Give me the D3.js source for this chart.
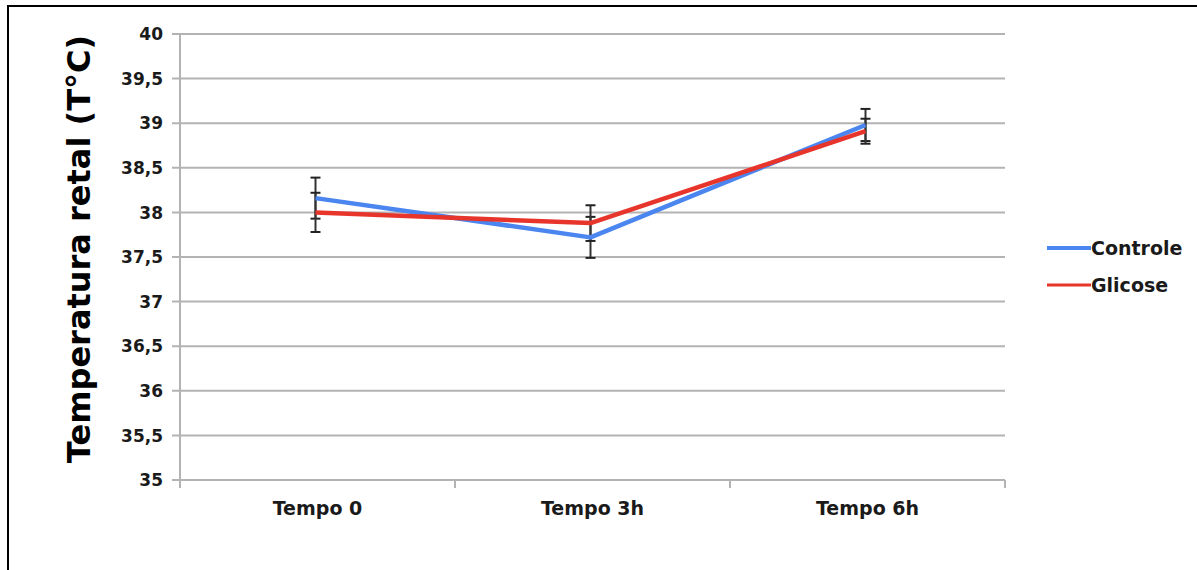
<!DOCTYPE html>
<html><head><meta charset="utf-8">
<script src="https://cdn.jsdelivr.net/npm/d3@7"></script>
<style>body{margin:0;background:#fff}svg{display:block}</style>
</head><body>
<svg id="c" width="1197" height="570"></svg>
<script>
const categories = ["Tempo 0", "Tempo 3h", "Tempo 6h"];
const seriesNames = ["Controle", "Glicose"];
const controle = [38.16, 37.72, 38.98];
const controleErr = [0.23, 0.23, 0.18];
const glicose = [38.0, 37.88, 38.91];
const glicoseErr = [0.22, 0.2, 0.14];
const yTicks = [35, 35.5, 36, 36.5, 37, 37.5, 38, 38.5, 39, 39.5, 40];
const colors = ["#4a85f0", "#e8352c"];

const svg = d3.select("#c");
const font = "DejaVu Sans, Verdana, sans-serif";
// frame
svg.append("rect").attr("x", 8).attr("y", 6).attr("width", 1300).attr("height", 700)
  .attr("fill", "none").attr("stroke", "#000").attr("stroke-width", 2);

const L = 180, R = 1005, T = 34, B = 480;
const x = d3.scaleBand().domain(categories).range([L, R]);
const y = d3.scaleLinear().domain([35, 40]).range([B, T]);

// grid
svg.append("g").selectAll("line").data(yTicks).join("line")
  .attr("x1", L - 8).attr("x2", R).attr("y1", d => y(d)).attr("y2", d => y(d))
  .attr("stroke", "#b3b3b3").attr("stroke-width", 2);
// y axis line
svg.append("line").attr("x1", L).attr("x2", L).attr("y1", T).attr("y2", B + 8)
  .attr("stroke", "#b3b3b3").attr("stroke-width", 2);
// x ticks at band boundaries
const bounds = categories.map(c => x(c)).concat([x(categories[2]) + x.bandwidth()]);
svg.append("g").selectAll("line").data(bounds.slice(1)).join("line")
  .attr("x1", d => d).attr("x2", d => d).attr("y1", B).attr("y2", B + 8)
  .attr("stroke", "#b3b3b3").attr("stroke-width", 2);

// y tick labels
svg.append("g").selectAll("text").data(yTicks).join("text")
  .attr("x", 163).attr("y", d => y(d)).attr("dy", "0.36em")
  .attr("text-anchor", "end").attr("font-family", font).attr("font-weight", "bold")
  .attr("font-size", 17).attr("fill", "#1a1a1a")
  .text(d => String(d).replace(".", ","));
// x labels
svg.append("g").selectAll("text").data(categories).join("text")
  .attr("x", d => x(d) + x.bandwidth() / 2).attr("y", 515)
  .attr("text-anchor", "middle").attr("font-family", font).attr("font-weight", "bold")
  .attr("font-size", 19).attr("fill", "#1a1a1a").text(d => d);

// y title
svg.append("text").attr("transform", "translate(90,249) rotate(-90)")
  .attr("text-anchor", "middle").attr("font-family", font).attr("font-weight", "bold")
  .attr("font-size", 32).attr("fill", "#000").text("Temperatura retal (T°C)");

const cx = d => x(d) + x.bandwidth() / 2 - 2;
const series = [
  {name: seriesNames[0], vals: controle, err: controleErr, color: colors[0]},
  {name: seriesNames[1], vals: glicose, err: glicoseErr, color: colors[1]}
];
const line = d3.line().x(d => cx(d.c)).y(d => y(d.v));

// error bars
series.forEach(s => {
  const g = svg.append("g");
  s.vals.forEach((v, i) => {
    const X = cx(categories[i]);
    const y1 = y(v + s.err[i]), y2 = y(v - s.err[i]);
    g.append("line").attr("x1", X).attr("x2", X).attr("y1", y1).attr("y2", y2)
      .attr("stroke", "#333").attr("stroke-width", 2);
    [y1, y2].forEach(yy => g.append("line").attr("x1", X - 5).attr("x2", X + 5)
      .attr("y1", yy).attr("y2", yy).attr("stroke", "#222").attr("stroke-width", 2));
  });
});
// lines
series.forEach(s => {
  svg.append("path").datum(s.vals.map((v, i) => ({c: categories[i], v})))
    .attr("d", line).attr("fill", "none").attr("stroke", s.color)
    .attr("stroke-width", 4.5).attr("stroke-linejoin", "round");
});

// legend
series.forEach((s, i) => {
  const yy = 248 + i * 37;
  svg.append("line").attr("x1", 1047).attr("x2", 1091).attr("y1", yy).attr("y2", yy)
    .attr("stroke", s.color).attr("stroke-width", i === 0 ? 4 : 3);
  svg.append("text").attr("x", 1091).attr("y", yy).attr("dy", "0.36em")
    .attr("font-family", font).attr("font-weight", "bold").attr("font-size", 19)
    .attr("fill", "#1a1a1a").text(s.name);
});
</script>
</body></html>
